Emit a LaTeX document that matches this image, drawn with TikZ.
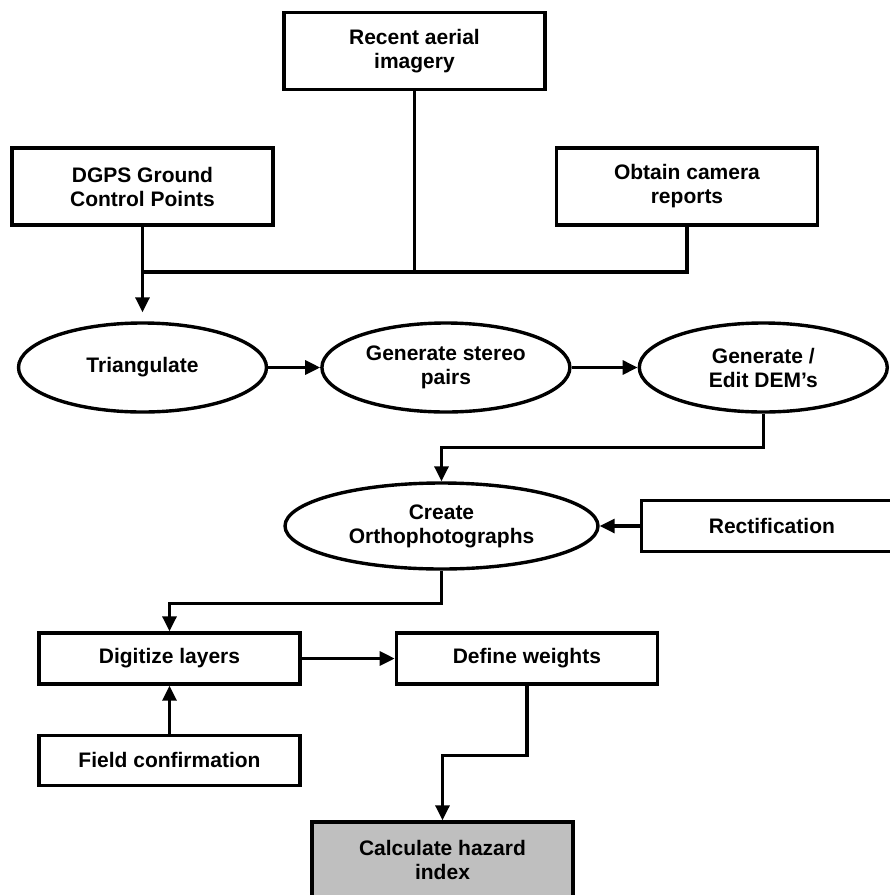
\documentclass[tikz,border=0pt]{standalone}
\usepackage{fontspec}
\setmainfont{Liberation Sans}
\usepackage{tikz}
\usetikzlibrary{shapes.geometric, arrows.meta, positioning, calc}
\definecolor{hazardgray}{RGB}{191,191,191}
\definecolor{bordercolor}{RGB}{0,0,0}
\tikzset{
  base/.style={draw=bordercolor, line width=3.4pt, align=center, inner sep=2pt,
               font=\fontsize{21}{24}\selectfont\bfseries, fill=white},
  box/.style  = {base, rectangle, minimum width=261pt, minimum height=77pt},
  oval/.style = {base, ellipse, minimum width=248pt, minimum height=89pt},
  calcbox/.style = {box, fill=hazardgray, minimum height=76pt},
  link/.style = {line width=3.2pt, color=bordercolor},
  arr/.style  = {-{Triangle[length=15pt, width=14pt]}, line width=3.2pt, color=bordercolor},
}
\begin{document}
\begin{tikzpicture}[x=1pt, y=1pt]
  \useasboundingbox (0,0) rectangle (890,-895);

  % Inputs
  \node[box] (aerial) at (414.5,-51) {Recent aerial\\imagery};
  \node[box] (dgps) at (142.5,-186.5) {DGPS Ground\\Control Points};
  \node[box] (camera) at (687,-186.5) {Obtain camera\\reports};
  \coordinate (merge) at (414.5,-272);

  % Photogrammetry row
  \node[oval] (tri) at (142.5,-367.5) {Triangulate};
  \node[oval, right=52pt of tri] (stereo) {Generate stereo\\pairs};
  \node[oval, right=66pt of stereo] (dem) {Generate /\\Edit DEM's};

  % Orthophotos
  \node[oval, minimum width=313pt, minimum height=86pt] (ortho) at (441.5,-526) {Create\\Orthophotographs};
  \node[box, minimum height=51pt, right=40pt of ortho] (rect) {Rectification};

  % GIS steps
  \node[box, minimum height=51pt] (digit) at (169.5,-658.5) {Digitize layers};
  \node[box, minimum height=50pt, below=48pt of digit] (field) {Field confirmation};
  \node[box, minimum height=51pt, right=93pt of digit] (weights) {Define weights};
  \node[calcbox] (calc) at (442.5,-860) {Calculate hazard\\index};

  % Inputs to triangulation
  \draw[link] (aerial.south) -- (aerial.south |- merge);
  \draw[link] (camera.south) |- (dgps.south |- merge);
  \draw[arr, shorten >=9pt] (dgps.south) -- (tri.north);

  \draw[arr] (tri) -- (stereo);
  \draw[arr] (stereo) -- (dem);
  \draw[arr] (dem.south) -- ++(0,-34) -| (ortho.north);
  \draw[arr] (rect) -- (ortho);

  \draw[arr] (ortho.south) -- ++(0,-33) -| (digit.north);
  \draw[arr] (field) -- (digit);
  \draw[arr] (digit) -- (weights);
  \draw[arr] (weights.south) -- ++(0,-70) -| (calc.north);

\end{tikzpicture}
\end{document}
